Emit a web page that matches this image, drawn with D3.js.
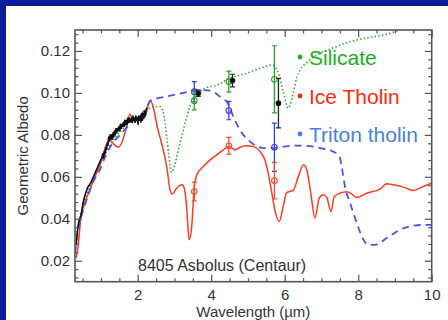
<!DOCTYPE html>
<html><head><meta charset="utf-8">
<script src="https://cdn.jsdelivr.net/npm/d3@7"></script>
<style>
html,body{margin:0;padding:0;background:#0c1c9a;}
svg{display:block;font-family:"Liberation Sans",Arial,Helvetica,sans-serif;}
</style></head>
<body><svg id="c" width="448" height="320"></svg>
<script>
// ---- data ----
const xTicks = [2, 4, 6, 8, 10];
const yTicks = [0.02, 0.04, 0.06, 0.08, 0.10, 0.12];
const yTickLabels = ["0.02", "0.04", "0.06", "0.08", "0.10", "0.12"];

// Observed spectrum (black)
const obsWave = [0.33,0.36,0.39,0.42,0.45,0.48,0.52,0.56,0.60,0.64,0.68,0.72,0.77,0.82,0.87,0.92,0.97,1.02,1.05,1.07,1.09,1.11,1.13,1.15,1.17,1.19,1.21,1.23,1.25,1.27,1.29,1.31,1.33,1.35,1.37,1.39,1.41,1.43,1.45,1.47,1.49,1.51,1.53,1.55,1.57,1.59,1.61,1.63,1.65,1.67,1.69,1.71,1.73,1.75,1.77,1.79,1.81,1.83,1.85,1.87,1.89,1.91,1.93,1.95,1.97,1.99,2.01,2.03,2.05,2.07,2.09,2.11,2.13,2.15,2.17,2.19,2.21,2.23,2.25];
const obsAlb  = [0.028,0.034,0.038,0.040,0.041,0.044,0.048,0.051,0.053,0.055,0.056,0.057,0.059,0.061,0.063,0.065,0.067,0.069,0.071,0.069,0.072,0.071,0.074,0.073,0.076,0.075,0.079,0.077,0.080,0.078,0.080,0.078,0.081,0.079,0.082,0.080,0.083,0.081,0.083,0.082,0.084,0.082,0.085,0.083,0.085,0.084,0.086,0.084,0.087,0.085,0.087,0.085,0.088,0.086,0.088,0.086,0.087,0.088,0.086,0.089,0.087,0.088,0.086,0.089,0.087,0.088,0.085,0.089,0.087,0.089,0.086,0.090,0.087,0.090,0.088,0.091,0.089,0.092,0.093];

// Ice Tholin model (red)
const iceWave = [0.32,0.38,0.45,0.55,0.70,0.88,1.02,1.16,1.25,1.35,1.47,1.56,1.70,1.79,1.86,1.97,2.11,2.23,2.33,2.42,2.53,2.65,2.79,2.88,2.94,3.06,3.20,3.27,3.33,3.40,3.47,3.54,3.61,3.79,3.97,4.15,4.33,4.49,4.65,4.78,4.97,5.15,5.33,5.46,5.55,5.65,5.74,5.85,5.96,6.05,6.23,6.37,6.51,6.60,6.71,6.82,6.94,7.05,7.14,7.26,7.35,7.50,7.69,7.82,7.96,8.23,8.59,8.78,8.96,9.23,9.50,9.77,10.0];
const iceAlb  = [0.0213,0.027,0.040,0.047,0.054,0.0618,0.068,0.076,0.0776,0.0755,0.0741,0.076,0.084,0.0899,0.0871,0.0868,0.0875,0.0903,0.0963,0.0935,0.084,0.076,0.0649,0.0538,0.0518,0.0546,0.0562,0.0546,0.0459,0.030,0.0363,0.0554,0.061,0.0649,0.0681,0.0705,0.0729,0.0744,0.0729,0.0741,0.0748,0.0744,0.072,0.0681,0.0618,0.0522,0.0435,0.0387,0.0459,0.0525,0.0535,0.0601,0.0657,0.0633,0.0522,0.0403,0.0499,0.0514,0.0503,0.0435,0.0506,0.0522,0.0529,0.0519,0.0501,0.0522,0.0541,0.0567,0.0562,0.0551,0.0535,0.0554,0.057];

// Triton tholin model (blue dashed)
const tritonWave = [0.30,0.36,0.45,0.61,0.80,0.97,1.15,1.34,1.52,1.70,1.90,2.06,2.20,2.38,2.70,3.06,3.42,3.70,3.97,4.24,4.44,4.51,4.62,4.78,5.06,5.42,5.69,5.96,6.23,6.60,6.96,7.32,7.49,7.55,7.64,7.78,7.96,8.12,8.27,8.46,8.78,9.14,9.50,9.86,10.0];
const tritonAlb  = [0.024,0.033,0.040,0.049,0.058,0.0633,0.071,0.0765,0.080,0.0835,0.087,0.089,0.092,0.0967,0.098,0.0994,0.1006,0.1014,0.1011,0.0982,0.0954,0.0927,0.088,0.0824,0.0768,0.0737,0.0737,0.0744,0.0749,0.0748,0.0737,0.072,0.0697,0.0649,0.0554,0.0475,0.038,0.0308,0.0276,0.0276,0.0308,0.0348,0.0367,0.0371,0.0371];

// Silicate model (green dotted)
const silWave = [0.30,0.40,0.55,0.75,0.95,1.15,1.35,1.55,1.75,1.95,2.15,2.33,2.50,2.61,2.70,2.79,2.86,2.92,3.02,3.15,3.29,3.42,3.61,3.83,4.15,4.51,4.97,5.33,5.65,5.83,5.96,6.10,6.19,6.33,6.42,6.60,6.87,7.32,7.78,8.23,8.68,9.05,9.25];
const silAlb  = [0.030,0.038,0.049,0.057,0.065,0.072,0.078,0.082,0.086,0.088,0.090,0.0927,0.0935,0.0935,0.0903,0.0792,0.0681,0.0621,0.0665,0.0760,0.0855,0.0935,0.099,0.1022,0.1038,0.107,0.1094,0.1118,0.1133,0.1094,0.1006,0.0927,0.097,0.1075,0.111,0.1145,0.118,0.1215,0.1244,0.1262,0.1276,0.1295,0.1308];

// Photometric points with error bars
const ptSeries = ["triton","silicate","observed","silicate","observed","triton","ice","silicate","observed","triton","ice","ice"];
const ptWave   = [3.54,3.54,3.65,4.48,4.58,4.48,4.48,5.72,5.83,5.72,5.72,3.54];
const ptAlb    = [0.1006,0.0963,0.0998,0.1054,0.1059,0.0916,0.0748,0.1065,0.0951,0.0741,0.0582,0.0530];
const ptErr    = [0.0048,0.0044,0.0015,0.0050,0.0030,0.0044,0.0040,0.0160,0.0118,0.0115,0.0087,0.0045];

const legendNames = ["Silicate", "Ice Tholin", "Triton tholin"];

// ---- drawing ----
const svg = d3.select("#c");
const W = 448, H = 320;
svg.append("rect").attr("x", 6).attr("y", 6).attr("width", W - 6).attr("height", H - 6).attr("fill", "#ffffff");

const L = 75, R = 431.7, T = 30, B = 281.7;
const x = d3.scaleLinear().domain([0.294, 10]).range([L, R]);
const y = d3.scaleLinear().domain([0.01, 0.13]).range([B, T]);

const colors = {
  silicate: "#3aa43a", ice: "#ff3c1e", triton: "#4f4fee", observed: "#111111",
  silicateTxt: "#1cb01c", iceTxt: "#ff2a0a", tritonTxt: "#4a80e6",
  silicateBar: "#28a028", iceBar: "#ff4a2a", tritonBar: "#3a3af5"
};

svg.append("clipPath").attr("id", "clip").append("rect")
  .attr("x", L).attr("y", T).attr("width", R - L).attr("height", B - T);

const g = svg.append("g").attr("clip-path", "url(#clip)");
const zip = (a, b) => a.map((v, i) => [v, b[i]]);
const line = d3.line().x(d => x(d[0])).y(d => y(d[1])).curve(d3.curveMonotoneX);
const lineLin = d3.line().x(d => x(d[0])).y(d => y(d[1]));

g.append("path").datum(zip(silWave, silAlb)).attr("d", line)
  .attr("fill", "none").attr("stroke", colors.silicate).attr("stroke-width", 1.6)
  .attr("stroke-dasharray", "1.5,2.2");
g.append("path").datum(zip(iceWave, iceAlb)).attr("d", line)
  .attr("fill", "none").attr("stroke", colors.ice).attr("stroke-width", 1.5);
g.append("path").datum(zip(tritonWave, tritonAlb)).attr("d", line)
  .attr("fill", "none").attr("stroke", colors.triton).attr("stroke-width", 1.8)
  .attr("stroke-dasharray", "7,5");
g.append("path").datum(zip(obsWave, obsAlb)).attr("d", lineLin)
  .attr("fill", "none").attr("stroke", colors.observed).attr("stroke-width", 1.6)
  .attr("stroke-linejoin", "round");

// error bar points
const pts = ptSeries.map((s, i) => ({s, w: ptWave[i], a: ptAlb[i], e: ptErr[i]}));
const barColor = s => s === "observed" ? "#222" : colors[s + "Bar"];
const pg = g.selectAll("g.pt").data(pts).join("g").attr("class", "pt");
pg.append("line").attr("x1", d => x(d.w)).attr("x2", d => x(d.w))
  .attr("y1", d => y(d.a - d.e)).attr("y2", d => y(d.a + d.e))
  .attr("stroke", d => barColor(d.s)).attr("stroke-width", 1.3);
pg.each(function(d) {
  const s = d3.select(this);
  [d.a - d.e, d.a + d.e].forEach(v => {
    s.append("line").attr("x1", x(d.w) - 2.5).attr("x2", x(d.w) + 2.5)
      .attr("y1", y(v)).attr("y2", y(v)).attr("stroke", barColor(d.s)).attr("stroke-width", 1.2);
  });
});
pg.append("circle").attr("cx", d => x(d.w)).attr("cy", d => y(d.a))
  .attr("r", d => d.s === "observed" ? 2.3 : 2.8)
  .attr("fill", d => d.s === "observed" ? "#000" : "none")
  .attr("stroke", d => barColor(d.s)).attr("stroke-width", 1.1);

// axes (ticks inward, on all four sides)
const frameColor = "#555";
const axG = svg.append("g");
function styleAxis(sel) {
  sel.select(".domain").remove();
  sel.selectAll(".tick line").attr("stroke", frameColor).attr("stroke-width", 1.2);
  sel.selectAll("text").attr("fill", "#333").attr("font-size", 15);
}
const xMinor = d3.range(0.5, 10.01, 0.5);
const yMinor = d3.range(0.012, 0.1301, 0.004).map(v => +v.toFixed(3));

axG.append("g").attr("transform", `translate(0,${B})`)
  .call(d3.axisBottom(x).tickValues(xTicks).tickSize(-7).tickPadding(8).tickFormat(d3.format("d"))).call(styleAxis);
axG.append("g").attr("transform", `translate(0,${B})`)
  .call(d3.axisBottom(x).tickValues(xMinor.filter(v => !xTicks.includes(v) && v > 0.3)).tickSize(-3.5).tickFormat("")).call(styleAxis);
axG.append("g").attr("transform", `translate(0,${T})`)
  .call(d3.axisTop(x).tickValues(xTicks).tickSize(-7).tickFormat("")).call(styleAxis);
axG.append("g").attr("transform", `translate(0,${T})`)
  .call(d3.axisTop(x).tickValues(xMinor.filter(v => !xTicks.includes(v) && v > 0.3)).tickSize(-3.5).tickFormat("")).call(styleAxis);
axG.append("g").attr("transform", `translate(${L},0)`)
  .call(d3.axisLeft(y).tickValues(yTicks).tickSize(-7).tickPadding(5).tickFormat((d, i) => yTickLabels[i])).call(styleAxis);
axG.append("g").attr("transform", `translate(${L},0)`)
  .call(d3.axisLeft(y).tickValues(yMinor.filter(v => !yTicks.some(t => Math.abs(t - v) < 1e-6))).tickSize(-3.5).tickFormat("")).call(styleAxis);
axG.append("g").attr("transform", `translate(${R},0)`)
  .call(d3.axisRight(y).tickValues(yTicks).tickSize(-7).tickFormat("")).call(styleAxis);
axG.append("g").attr("transform", `translate(${R},0)`)
  .call(d3.axisRight(y).tickValues(yMinor.filter(v => !yTicks.some(t => Math.abs(t - v) < 1e-6))).tickSize(-3.5).tickFormat("")).call(styleAxis);

svg.append("rect").attr("x", L).attr("y", T).attr("width", R - L).attr("height", B - T)
  .attr("fill", "none").attr("stroke", frameColor).attr("stroke-width", 1.6);

// axis titles
svg.append("text").attr("x", (L + R) / 2).attr("y", 317).attr("text-anchor", "middle")
  .attr("font-size", 15).attr("fill", "#333").text("Wavelength (µm)");
svg.append("text").attr("transform", `translate(28,${(T + B) / 2}) rotate(-90)`).attr("text-anchor", "middle")
  .attr("font-size", 15).attr("fill", "#333").text("Geometric Albedo");
svg.append("text").attr("x", 138).attr("y", 271).attr("font-size", 16).attr("fill", "#333")
  .text("8405 Asbolus (Centaur)");

// legend
const legColors = [colors.silicateTxt, colors.iceTxt, colors.tritonTxt];
const legY = [57, 96, 134];
legendNames.forEach((n, i) => {
  svg.append("circle").attr("cx", 300).attr("cy", legY[i]).attr("r", 2.4).attr("fill", legColors[i]);
  svg.append("text").attr("x", 309).attr("y", legY[i] + 7.5).attr("font-size", 21)
    .attr("fill", legColors[i]).text(n);
});
</script></body></html>
